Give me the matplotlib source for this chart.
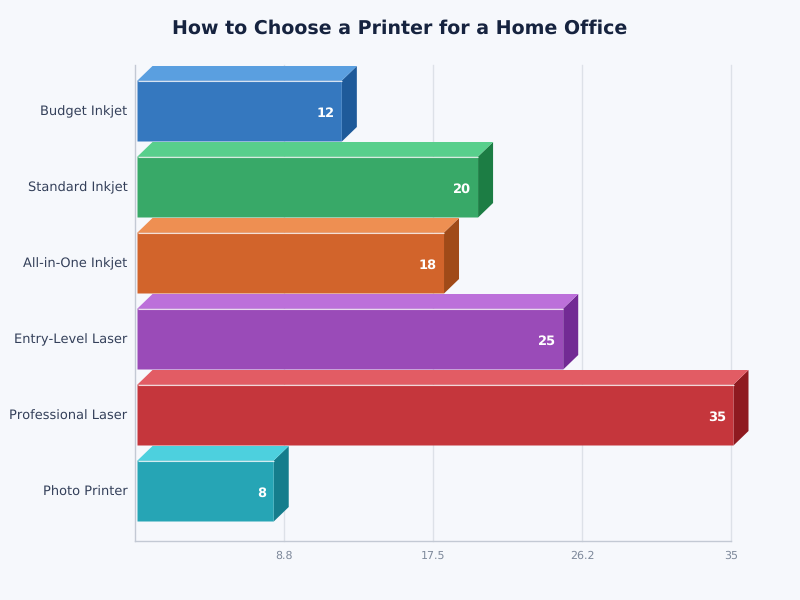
import matplotlib
matplotlib.use("Agg")
import matplotlib.pyplot as plt
from matplotlib.transforms import ScaledTranslation

plt.rcParams["text.hinting"] = "no_hinting"
plt.rcParams["text.hinting_factor"] = 1

categories = ["Budget Inkjet", "Standard Inkjet", "All-in-One Inkjet",
              "Entry-Level Laser", "Professional Laser", "Photo Printer"]
values = [12, 20, 18, 25, 35, 8]
x_ticks = [8.75, 17.5, 26.25, 35]
x_tick_labels = ["8.8", "17.5", "26.2", "35"]

front_colors = ["#3578bf", "#38a968", "#d2642b", "#9a4bb8", "#c5363c", "#26a5b5"]
top_colors = ["#5a9fe0", "#58cf8c", "#ee8f52", "#bc70da", "#e25c64", "#4dd0de"]
side_colors = ["#1e5a9a", "#1c7d44", "#a04a18", "#722a94", "#8f1a20", "#157d8c"]

bg = "#f6f8fc"
W, H = 800, 600
left, right, top, bottom = 135.0, 731.0, 65, 541.0
pitch = 76.0
first_center = 111.0

fig = plt.figure(figsize=(8, 6), dpi=100, facecolor=bg)
ax = fig.add_axes([left / W, 1 - bottom / H, (right - left) / W, (bottom - top) / H])
ax.set_facecolor(bg)
ax.set_xlim(0, 35)
ax.set_ylim((bottom - first_center) / pitch, (top - first_center) / pitch)

px_x = 35 / (right - left)
px_y = 1 / pitch
x0 = 2.5 * px_x
bar_h = 61 * px_y
dx = 15 * px_x
dy = 14.5 * px_y

ax.grid(axis="x", color="#dde1e8", linewidth=1, zorder=0)
ax.set_axisbelow(True)
for line in ax.get_xgridlines():
    line.set_clip_on(False)

for i, v in enumerate(values):
    y0 = i - bar_h / 2
    y1 = i + bar_h / 2
    x1 = x0 + v
    ax.barh(i, v, height=bar_h, left=x0, color=front_colors[i], linewidth=0, zorder=3,
            snap=False, clip_on=False)
    ax.fill([x0, x1, x1 + dx, x0 + dx], [y0, y0, y0 - dy, y0 - dy],
            color=top_colors[i], linewidth=0, zorder=3, clip_on=False, snap=False)
    ax.fill([x1, x1 + dx, x1 + dx, x1], [y0, y0 - dy, y1 - dy, y1],
            color=side_colors[i], linewidth=0, zorder=2.9, clip_on=False, snap=False)
    ax.plot([x0, x1], [y0, y0], color="#ffffff", alpha=0.8, linewidth=0.8,
            solid_capstyle="butt", zorder=4, clip_on=False)
    ax.text(x1 - 7.5 * px_x, i + 2.5 * px_y, str(v), color="white", fontsize=9.6,
            fontweight="bold", ha="right", va="center", zorder=5)

ax.set_yticks(range(len(categories)))
ax.set_yticklabels(categories, fontsize=9.4, color="#34405a")
ax.set_xticks(x_ticks)
ax.set_xticklabels(x_tick_labels, fontsize=8, color="#7f8a9c")
ax.tick_params(axis="both", length=0)
ax.tick_params(axis="y", pad=5.5)
ax.tick_params(axis="x", pad=7)
for label in ax.get_yticklabels():
    label.set_transform(label.get_transform() + ScaledTranslation(0, 0.5 / 100, fig.dpi_scale_trans))

for s in ["top", "right"]:
    ax.spines[s].set_visible(False)
for s in ["left", "bottom"]:
    ax.spines[s].set_color("#c3c9d4")
    ax.spines[s].set_linewidth(1)

fig.text(0.5, 1 - 28 / H, "How to Choose a Printer for a Home Office", fontsize=13.6,
         fontweight="bold", color="#16233f", ha="center", va="center")

fig.savefig("out.png", dpi=100, facecolor=bg)
